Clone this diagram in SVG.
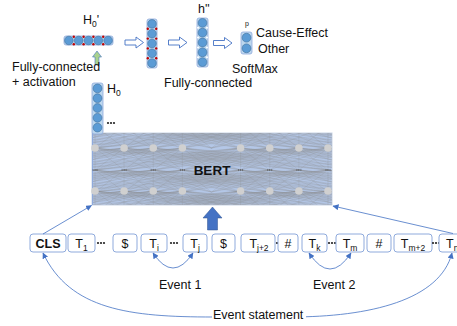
<svg xmlns="http://www.w3.org/2000/svg" width="457" height="326" viewBox="0 0 457 326">
<defs>
<style>
text{font-family:"Liberation Sans",Arial,sans-serif;fill:#111}
.lbl{font-size:12.5px}
.tok{font-size:12.5px}
.sub{font-size:8.5px}
.box{fill:#fff;stroke:#8faadc;stroke-width:1}
.vec{fill:#bdd7ee;stroke:#8faadc;stroke-width:0.8}
.cir{fill:#5b9bd5;stroke:#41719c;stroke-width:0.6}
.red{fill:#c00000}
.wht{fill:#ffffff}
.conn{fill:none;stroke:#4472c4;stroke-width:0.8}
.harrow{fill:#fff;stroke:#4472c4;stroke-width:0.9}
.mesh{fill:none;stroke:#8c8c8c;stroke-width:0.33;stroke-opacity:0.6}
.node{fill:#d0d0d0}
.ell{fill:#222}
</style>
<marker id="ah" markerWidth="6" markerHeight="6" refX="5.5" refY="3" orient="auto-start-reverse" markerUnits="userSpaceOnUse"><path d="M0,0 L6,3 L0,6 z" fill="#4472c4"/></marker>
<path id="fan" d="M0 0L-233 22M0 0L-203.9 22M0 0L-174.75 22M0 0L-145.6 22M0 0L-116.5 22M0 0L-87.4 22M0 0L-58.25 22M0 0L-29.1 22M0 0L0 22M0 0L29.1 22M0 0L58.25 22M0 0L87.4 22M0 0L116.5 22M0 0L145.6 22M0 0L174.75 22M0 0L203.9 22M0 0L233 22"/>
<path id="harrow" class="harrow" d="M0,-2.5 L11,-2.5 L11,-5.5 L18.5,0 L11,5.5 L11,2.5 L0,2.5 z"/>
<g id="dots"><circle cx="0" cy="0" r="1.1" class="ell"/><circle cx="3" cy="0" r="1.1" class="ell"/><circle cx="6" cy="0" r="1.1" class="ell"/></g>
<clipPath id="bc"><rect x="92" y="133" width="240" height="72"/></clipPath>
</defs>

<!-- BERT block -->
<g id="bert">
<rect x="92" y="133" width="240" height="72" fill="#b4c7e7" stroke="#c8d3e6" stroke-width="1"/>
<g clip-path="url(#bc)" class="mesh">
<use href="#fan" x="95" y="126"/><use href="#fan" x="124.1" y="126"/><use href="#fan" x="153.25" y="126"/><use href="#fan" x="182.4" y="126"/><use href="#fan" x="240.6" y="126"/><use href="#fan" x="269.75" y="126"/><use href="#fan" x="298.9" y="126"/><use href="#fan" x="328" y="126"/>
<use href="#fan" x="95" y="148"/><use href="#fan" x="124.1" y="148"/><use href="#fan" x="153.25" y="148"/><use href="#fan" x="182.4" y="148"/><use href="#fan" x="240.6" y="148"/><use href="#fan" x="269.75" y="148"/><use href="#fan" x="298.9" y="148"/><use href="#fan" x="328" y="148"/>
<use href="#fan" x="95" y="170"/><use href="#fan" x="124.1" y="170"/><use href="#fan" x="153.25" y="170"/><use href="#fan" x="182.4" y="170"/><use href="#fan" x="240.6" y="170"/><use href="#fan" x="269.75" y="170"/><use href="#fan" x="298.9" y="170"/><use href="#fan" x="328" y="170"/>
<use href="#fan" x="95" y="191"/><use href="#fan" x="124.1" y="191"/><use href="#fan" x="153.25" y="191"/><use href="#fan" x="182.4" y="191"/><use href="#fan" x="240.6" y="191"/><use href="#fan" x="269.75" y="191"/><use href="#fan" x="298.9" y="191"/><use href="#fan" x="328" y="191"/>
</g>
<line x1="92.5" y1="133" x2="92.5" y2="205" stroke="#8faadc" stroke-width="1"/>
<g class="node">
<circle cx="95" cy="148" r="3.8"/><circle cx="124.1" cy="148" r="3.8"/><circle cx="153.25" cy="148" r="3.8"/><circle cx="182.4" cy="148" r="3.8"/><circle cx="240.6" cy="148" r="3.8"/><circle cx="269.75" cy="148" r="3.8"/><circle cx="298.9" cy="148" r="3.8"/><circle cx="328" cy="148" r="3.8"/>
<circle cx="95" cy="191" r="3.8"/><circle cx="124.1" cy="191" r="3.8"/><circle cx="153.25" cy="191" r="3.8"/><circle cx="182.4" cy="191" r="3.8"/><circle cx="240.6" cy="191" r="3.8"/><circle cx="269.75" cy="191" r="3.8"/><circle cx="298.9" cy="191" r="3.8"/><circle cx="328" cy="191" r="3.8"/>
</g>
<path d="M92.5 170h5M121.6 170h5M150.7 170h5M179.9 170h5M238.1 170h5M267.2 170h5M296.4 170h5M325.5 170h5" stroke="#333" stroke-width="0.9" stroke-dasharray="1,1"/>
<text x="212" y="175" font-size="13.5px" font-weight="bold" text-anchor="middle">BERT</text>
</g>

<!-- H0 vector -->
<g id="h0">
<rect x="92" y="83" width="11" height="51" rx="2" class="vec"/>
<circle cx="97.5" cy="88.4" r="4.4" class="cir"/><circle cx="97.5" cy="98.2" r="4.4" class="cir"/><circle cx="97.5" cy="108" r="4.4" class="cir"/><circle cx="97.5" cy="117.8" r="4.4" class="cir"/><circle cx="97.5" cy="127.6" r="4.4" class="cir"/>
<text x="107" y="93" class="lbl">H<tspan class="sub" dy="3">0</tspan></text>
<use href="#dots" x="108" y="123"/>
</g>

<!-- H0' vector -->
<g id="h0p">
<rect x="64" y="36" width="49" height="9" rx="2" class="vec"/>
<circle cx="68.9" cy="40.5" r="4.3" class="cir"/><circle cx="78.7" cy="40.5" r="4.3" class="cir"/><circle cx="88.5" cy="40.5" r="4.3" class="cir"/><circle cx="98.3" cy="40.5" r="4.3" class="cir"/><circle cx="108.1" cy="40.5" r="4.3" class="cir"/>
<g class="red"><circle cx="73.8" cy="36.8" r="1.2"/><circle cx="83.6" cy="36.8" r="1.2"/><circle cx="93.4" cy="36.8" r="1.2"/><circle cx="103.2" cy="36.8" r="1.2"/><circle cx="73.8" cy="44.2" r="1.2"/><circle cx="83.6" cy="44.2" r="1.2"/><circle cx="93.4" cy="44.2" r="1.2"/><circle cx="103.2" cy="44.2" r="1.2"/></g>
<text x="83" y="24" class="lbl">H<tspan class="sub" dy="3">0</tspan><tspan dy="-3">'</tspan></text>
</g>

<!-- green up arrow -->
<g id="fc-arrow">
<path d="M97,51 L101.5,57 L99,57 L99,65 L95,65 L95,57 L92.5,57 z" fill="#a9d18e" stroke="#4472c4" stroke-width="0.6"/>
<text x="12" y="71" class="lbl">Fully-connected</text>
<text x="12" y="86" class="lbl">+ activation</text>
</g>

<!-- second vector -->
<g id="v2">
<rect x="147" y="19" width="10" height="49" rx="2" class="vec"/>
<circle cx="152" cy="23.9" r="4.3" class="cir"/><circle cx="152" cy="33.7" r="4.3" class="cir"/><circle cx="152" cy="43.5" r="4.3" class="cir"/><circle cx="152" cy="53.3" r="4.3" class="cir"/><circle cx="152" cy="63.1" r="4.3" class="cir"/>
<g class="red"><circle cx="147.8" cy="28.8" r="1.2"/><circle cx="147.8" cy="38.6" r="1.2"/><circle cx="147.8" cy="48.4" r="1.2"/><circle cx="147.8" cy="58.2" r="1.2"/><circle cx="156.2" cy="28.8" r="1.2"/><circle cx="156.2" cy="38.6" r="1.2"/><circle cx="156.2" cy="48.4" r="1.2"/><circle cx="156.2" cy="58.2" r="1.2"/></g>
</g>

<!-- h'' vector -->
<g id="hpp">
<rect x="197" y="18" width="11" height="49" rx="2" class="vec"/>
<circle cx="202.5" cy="22.9" r="4.4" class="cir"/><circle cx="202.5" cy="32.7" r="4.4" class="cir"/><circle cx="202.5" cy="42.5" r="4.4" class="cir"/><circle cx="202.5" cy="52.3" r="4.4" class="cir"/><circle cx="202.5" cy="62.1" r="4.4" class="cir"/>
<g class="wht"><circle cx="198" cy="27.8" r="1"/><circle cx="198" cy="37.6" r="1"/><circle cx="198" cy="47.4" r="1"/><circle cx="198" cy="57.2" r="1"/><circle cx="207" cy="27.8" r="1"/><circle cx="207" cy="37.6" r="1"/><circle cx="207" cy="47.4" r="1"/><circle cx="207" cy="57.2" r="1"/></g>
<text x="198" y="13" class="lbl">h''</text>
<text x="164" y="87" class="lbl">Fully-connected</text>
</g>

<!-- softmax vector -->
<g id="softmax">
<rect x="241" y="32" width="11" height="22" rx="2" class="vec"/>
<circle cx="246.5" cy="37.7" r="4.4" class="cir"/><circle cx="246.5" cy="48.3" r="4.4" class="cir"/>
<text x="245" y="26" font-size="7px">p</text>
<text x="256" y="37" class="lbl">Cause-Effect</text>
<text x="258" y="53" class="lbl">Other</text>
<text x="232" y="73" class="lbl">SoftMax</text>
</g>

<!-- hollow arrows -->
<g id="harrows">
<use href="#harrow" x="125" y="42.5"/>
<use href="#harrow" x="168.5" y="42.5"/>
<use href="#harrow" x="213.5" y="43"/>
</g>

<!-- big up arrow -->
<g id="up-arrow">
<path d="M212.5,207 L222,218 L217.5,218 L217.5,230 L207.5,230 L207.5,218 L203,218 z" fill="#4472c4" stroke="#2f528f" stroke-width="0.5"/>
</g>

<!-- tokens -->
<g id="tokens">
<g id="t-cls"><rect x="30" y="234" width="36" height="18" rx="3" class="box"/><text x="48" y="247.5" class="tok" font-weight="bold" text-anchor="middle">CLS</text></g>
<g id="t-1"><rect x="68" y="234" width="27" height="18" rx="3" class="box"/><text x="81.5" y="247.5" class="tok" text-anchor="middle">T<tspan class="sub" dy="3">1</tspan></text></g>
<use href="#dots" x="98" y="243"/>
<g id="t-s1"><rect x="113" y="234" width="24" height="18" rx="3" class="box"/><text x="125" y="247.5" class="tok" text-anchor="middle">$</text></g>
<g id="t-i"><rect x="141" y="234" width="26" height="18" rx="3" class="box"/><text x="154" y="247.5" class="tok" text-anchor="middle">T<tspan class="sub" dy="3">i</tspan></text></g>
<use href="#dots" x="171" y="243"/>
<g id="t-j"><rect x="183" y="234" width="24" height="18" rx="3" class="box"/><text x="195" y="247.5" class="tok" text-anchor="middle">T<tspan class="sub" dy="3">j</tspan></text></g>
<g id="t-s2"><rect x="212" y="234" width="23" height="18" rx="3" class="box"/><text x="223.5" y="247.5" class="tok" text-anchor="middle">$</text></g>
<g id="t-j2"><rect x="241" y="234" width="34" height="18" rx="3" class="box"/><text x="259" y="247.5" class="tok" text-anchor="middle">T<tspan class="sub" dy="3">j+2</tspan></text></g>
<use href="#dots" x="277" y="243"/>
<g id="t-h1"><rect x="278" y="234" width="20" height="18" rx="3" class="box"/><text x="288" y="247.5" class="tok" text-anchor="middle">#</text></g>
<g id="t-k"><rect x="302" y="234" width="25" height="18" rx="3" class="box"/><text x="314.5" y="247.5" class="tok" text-anchor="middle">T<tspan class="sub" dy="3">k</tspan></text></g>
<use href="#dots" x="329" y="243"/>
<g id="t-m"><rect x="336" y="234" width="28" height="18" rx="3" class="box"/><text x="350" y="247.5" class="tok" text-anchor="middle">T<tspan class="sub" dy="3">m</tspan></text></g>
<g id="t-h2"><rect x="367" y="234" width="24" height="18" rx="3" class="box"/><text x="379" y="247.5" class="tok" text-anchor="middle">#</text></g>
<g id="t-m2"><rect x="394" y="234" width="38" height="18" rx="3" class="box"/><text x="413" y="247.5" class="tok" text-anchor="middle">T<tspan class="sub" dy="3">m+2</tspan></text></g>
<use href="#dots" x="433" y="243"/>
<g id="t-n"><rect x="439" y="234" width="30" height="18" rx="3" class="box"/><text x="446" y="247.5" class="tok">T<tspan class="sub" dy="3">n</tspan></text></g>
</g>

<!-- connectors -->
<g id="connectors" class="conn">
<line x1="43" y1="234" x2="91.5" y2="205.5" marker-end="url(#ah)"/>
<line x1="453" y1="233.5" x2="333" y2="206" marker-end="url(#ah)"/>
<path d="M153,253 Q173,283 193,253" marker-start="url(#ah)" marker-end="url(#ah)"/>
<path d="M309,253 Q330,285 351,253" marker-start="url(#ah)" marker-end="url(#ah)"/>
<path d="M43,253 C70,310 130,317 213,317 L290,317 C370,317 440,300 452,253" marker-start="url(#ah)" marker-end="url(#ah)"/>
</g>

<!-- labels -->
<g id="labels">
<text x="159" y="289" class="lbl">Event 1</text>
<text x="313" y="289" class="lbl">Event 2</text>
<rect x="212" y="308" width="94" height="14" fill="#fff"/>
<text x="213" y="319" class="lbl">Event statement</text>
</g>
</svg>
